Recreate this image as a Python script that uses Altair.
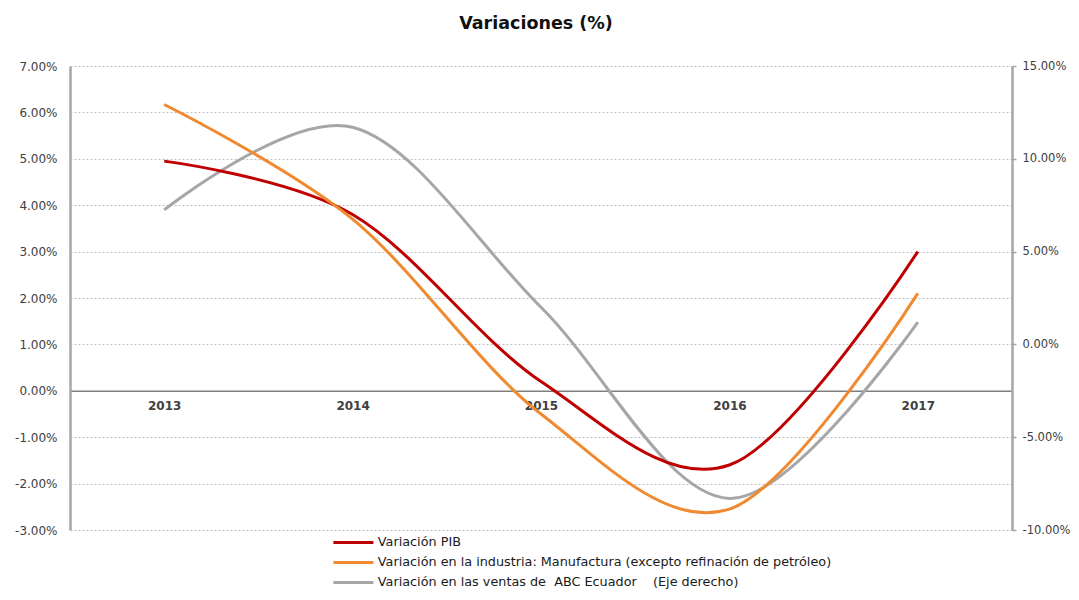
import altair as alt
import pandas as pd

years = ["2013", "2014", "2015", "2016", "2017"]
pib = [4.95, 3.8, 0.2, -1.6, 3.0]
manufactura = [6.17, 3.7, -0.5, -2.55, 2.1]
ventas = [7.25, 11.7, 2.0, -8.3, 1.2]

series_names = [
    "Variación PIB",
    "Variación en la industria: Manufactura (excepto refinación de petróleo)",
    "Variación en las ventas de\u00a0\u00a0ABC Ecuador\u00a0\u00a0\u00a0\u00a0(Eje derecho)",
]
colors = ["#C00000", "#F08A30", "#A6A6A6"]
left_ticks = [-3, -2, -1, 0, 1, 2, 3, 4, 5, 6, 7]
right_ticks = [-10, -5, 0, 5, 10, 15]

left_df = pd.DataFrame({
    "year": years * 2,
    "serie": [series_names[0]] * len(years) + [series_names[1]] * len(years),
    "valor": pib + manufactura,
})
right_df = pd.DataFrame({
    "year": years,
    "serie": [series_names[2]] * len(years),
    "valor": ventas,
})

FONT = "DejaVu Sans"
fmt = "replace(format(datum.value, '.2f'), '\u2212', '-') + '%'"

x_enc = alt.X(
    "year:N",
    scale=alt.Scale(type="point", padding=0.5),
    axis=alt.Axis(
        title=None, orient="bottom", offset=-139.2, ticks=False, grid=False,
        domainColor="#7F7F7F", domainWidth=1.5, labelAngle=0, labelAlign="center",
        labelFont=FONT, labelFontSize=12, labelFontWeight="bold",
        labelColor="#404040", labelPadding=15,
    ),
)

color_enc = alt.Color(
    "serie:N",
    scale=alt.Scale(domain=series_names, range=colors),
    legend=alt.Legend(
        title=None, orient="none", legendX=277, legendY=470,
        symbolType="M-5,0H5", symbolSize=64, symbolStrokeWidth=3,
        labelFont=FONT, labelFontSize=12.8, labelColor="#1A1A1A",
        labelLimit=900, labelOffset=18, rowPadding=6,
    ),
)

left = alt.Chart(left_df).mark_line(interpolate="cardinal", strokeWidth=3).encode(
    x=x_enc,
    y=alt.Y(
        "valor:Q",
        scale=alt.Scale(domain=[-3, 7], nice=False, zero=False),
        axis=alt.Axis(
            title=None, orient="left", values=left_ticks, labelExpr=fmt,
            ticks=False, domainColor="#A6A6A6", domainWidth=2.5,
            grid=True, gridColor="#BFBFBF", gridDash=[2, 2], gridWidth=1,
            labelFont=FONT, labelFontSize=12, labelColor="#404040", labelPadding=13,
        ),
    ),
    color=color_enc,
)

right = alt.Chart(right_df).mark_line(interpolate="cardinal", strokeWidth=3).encode(
    x=alt.X("year:N", scale=alt.Scale(type="point", padding=0.5)),
    y=alt.Y(
        "valor:Q",
        scale=alt.Scale(domain=[-10, 15], nice=False, zero=False),
        axis=alt.Axis(
            title=None, orient="right", values=right_ticks, labelExpr=fmt,
            ticks=True, tickSize=4, tickColor="#A6A6A6", tickWidth=1.5,
            domainColor="#A6A6A6", domainWidth=2.5, grid=False,
            labelFont=FONT, labelFontSize=11.5, labelColor="#404040", labelPadding=6,
        ),
    ),
    color=color_enc,
)

chart = (
    alt.layer(right, left)
    .resolve_scale(y="independent")
    .properties(
        width=942, height=464,
        title=alt.TitleParams(
            "Variaciones (%)", font=FONT, fontSize=17.5, fontWeight="bold",
            color="#111111", anchor="middle", offset=28, dx=-5,
        ),
        autosize=alt.AutoSizeParams(type="none"),
        padding={"left": 62, "top": 58, "right": 59, "bottom": 62},
    )
    .configure_view(stroke=None)
)

chart.save("out.html", embed_options={"renderer": "svg", "actions": False})
